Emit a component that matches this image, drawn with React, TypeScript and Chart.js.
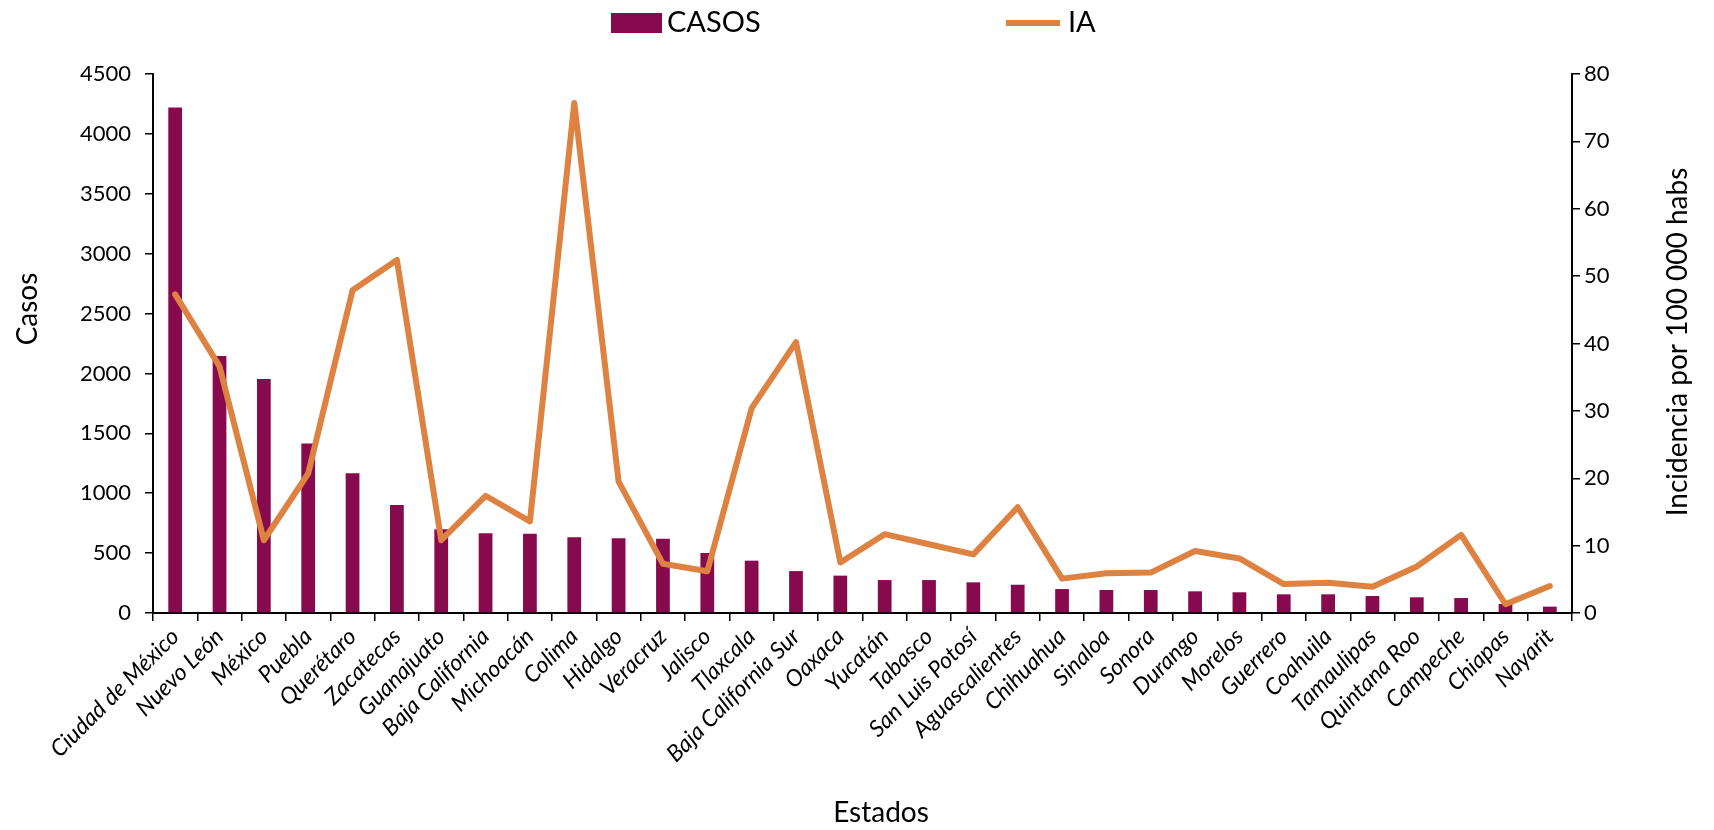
import React, { useEffect, useRef } from "react";
import { Chart, registerables } from "chart.js";

Chart.register(...registerables);

const states = [
  "Ciudad de México", "Nuevo León", "México", "Puebla", "Querétaro", "Zacatecas",
  "Guanajuato", "Baja California", "Michoacán", "Colima", "Hidalgo", "Veracruz",
  "Jalisco", "Tlaxcala", "Baja California Sur", "Oaxaca", "Yucatán", "Tabasco",
  "San Luis Potosí", "Aguascalientes", "Chihuahua", "Sinaloa", "Sonora", "Durango",
  "Morelos", "Guerrero", "Coahuila", "Tamaulipas", "Quintana Roo", "Campeche",
  "Chiapas", "Nayarit",
];

const casos = [
  4220, 2145, 1953, 1416, 1166, 901, 699, 665, 662, 632, 624, 620, 501, 437, 350, 312,
  275, 275, 256, 236, 200, 192, 192, 181, 173, 156, 156, 142, 131, 125, 75, 53,
];

const ia = [
  47.3, 36.6, 10.8, 20.7, 47.9, 52.4, 10.8, 17.4, 13.6, 75.7, 19.5, 7.3, 6.2, 30.4, 40.2, 7.5,
  11.7, 10.2, 8.7, 15.7, 5.1, 5.9, 6.0, 9.2, 8.1, 4.3, 4.5, 3.9, 6.9, 11.6, 1.3, 4.0,
];

const BAR_COLOR = "#870A4F";
const LINE_COLOR = "#DE8242";
const FONT = "Lato";

const titlesPlugin = {
  id: "customTitles",
  afterDraw(chart: any) {
    const ctx = chart.ctx;
    ctx.save();
    ctx.fillStyle = "#000";
    ctx.font = `28px ${FONT}`;
    ctx.textAlign = "center";
    ctx.textBaseline = "middle";
    ctx.save();
    ctx.translate(28, 309);
    ctx.rotate(-Math.PI / 2);
    ctx.fillText("Casos", 0, 0);
    ctx.restore();
    ctx.save();
    ctx.translate(1678, 342);
    ctx.rotate(-Math.PI / 2);
    ctx.fillText("Incidencia por 100 000 habs", 0, 0);
    ctx.restore();
    ctx.fillText("Estados", 881, 813);
    ctx.fillStyle = BAR_COLOR;
    ctx.fillRect(611, 13, 51, 20);
    ctx.fillStyle = "#000";
    ctx.textAlign = "left";
    ctx.font = `29px ${FONT}`;
    ctx.fillText("CASOS", 667, 23);
    ctx.strokeStyle = LINE_COLOR;
    ctx.lineWidth = 6;
    ctx.beginPath();
    ctx.moveTo(1006, 23);
    ctx.lineTo(1060, 23);
    ctx.stroke();
    ctx.fillText("IA", 1068, 23);
    ctx.restore();
  },
};

export default function App() {
  const canvasRef = useRef<HTMLCanvasElement | null>(null);

  useEffect(() => {
    document.body.style.margin = "0";
    const canvas = canvasRef.current;
    if (!canvas) return;
    const chart = new Chart(canvas, {
      type: "bar",
      data: {
        labels: states,
        datasets: [
          {
            type: "line",
            label: "IA",
            data: ia,
            yAxisID: "y1",
            borderColor: LINE_COLOR,
            backgroundColor: LINE_COLOR,
            borderWidth: 6,
            borderJoinStyle: "round",
            borderCapStyle: "round",
            pointRadius: 0,
            tension: 0,
            order: 0,
          } as any,
          {
            type: "bar",
            label: "CASOS",
            data: casos,
            yAxisID: "y",
            backgroundColor: BAR_COLOR,
            barPercentage: 0.62,
            categoryPercentage: 0.5,
            order: 1,
          },
        ],
      },
      options: {
        animation: false,
        responsive: false,
        maintainAspectRatio: false,
        layout: { padding: { top: 74, left: 0, right: 0, bottom: 0 } },
        plugins: {
          legend: { display: false },
          tooltip: { enabled: false },
          title: { display: false },
        },
        scales: {
          x: {
            offset: true,
            grid: {
              display: true,
              offset: true,
              drawOnChartArea: false,
              drawTicks: true,
              tickLength: 8,
              color: "#000",
              lineWidth: 1.5,
            },
            border: { display: true, color: "#000", width: 2 },
            ticks: {
              autoSkip: false,
              maxRotation: 45,
              minRotation: 45,
              padding: 2,
              color: "#000",
              font: { family: FONT, size: 23, style: "italic" },
            },
            afterFit(scale: any) {
              scale.height = 217;
            },
          },
          y: {
            position: "left",
            min: 0,
            max: 4500,
            ticks: {
              stepSize: 500,
              padding: 14,
              color: "#000",
              font: { family: FONT, size: 22 },
              callback: (v: any) => String(v),
            },
            grid: {
              display: true,
              drawOnChartArea: false,
              drawTicks: true,
              tickLength: 8,
              color: "#000",
              lineWidth: 1.5,
            },
            border: { display: true, color: "#000", width: 2 },
            afterFit(scale: any) {
              scale.width = 153;
            },
          },
          y1: {
            position: "right",
            min: 0,
            max: 80,
            ticks: {
              stepSize: 10,
              padding: 4,
              color: "#000",
              font: { family: FONT, size: 22 },
              callback: (v: any) => String(v),
            },
            grid: {
              display: true,
              drawOnChartArea: false,
              drawTicks: true,
              tickLength: 8,
              color: "#000",
              lineWidth: 1.5,
            },
            border: { display: true, color: "#000", width: 2 },
            afterFit(scale: any) {
              scale.width = 142;
            },
          },
        },
      },
      plugins: [titlesPlugin],
    });
    return () => chart.destroy();
  }, []);

  return (
    <div style={{ width: 1714, height: 830, background: "#fff" }}>
      <canvas ref={canvasRef} width={1714} height={830} style={{ width: 1714, height: 830 }} />
    </div>
  );
}
